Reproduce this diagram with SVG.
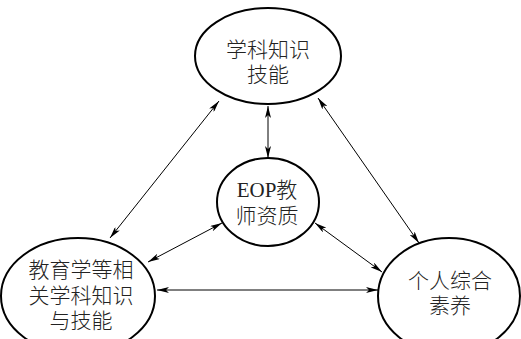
<svg xmlns="http://www.w3.org/2000/svg" width="521" height="339" viewBox="0 0 521 339">
<style>
.n{fill:#fff;stroke:#000;stroke-width:2}
.t{font-family:"Liberation Serif","Noto Sans CJK SC",serif;font-size:21px;font-weight:300;fill:#222;text-anchor:middle}
.c{stroke:#000;stroke-width:1;fill:none;marker-start:url(#ah);marker-end:url(#ah)}
</style>
<defs>
<marker id="ah" viewBox="0 0 12 6" refX="12" refY="3" markerWidth="12" markerHeight="6" markerUnits="userSpaceOnUse" orient="auto-start-reverse">
<path d="M0,0 L12,3 L0,6 L3,3 Z" fill="#000"/>
</marker>
</defs>
<rect width="521" height="339" fill="#fff"/>
<g id="connectors">
<line class="c" x1="219" y1="101" x2="110" y2="238"/>
<line class="c" x1="268" y1="106" x2="268" y2="158"/>
<line class="c" x1="318" y1="98" x2="419" y2="243"/>
<line class="c" x1="222" y1="223" x2="148" y2="262"/>
<line class="c" x1="315" y1="223" x2="382" y2="272"/>
<line class="c" x1="157" y1="290" x2="378" y2="290"/>
</g>
<g id="node-top">
<ellipse class="n" cx="268" cy="56" rx="73" ry="48"/>
<text class="t" x="268" y="57">学科知识</text>
<text class="t" x="268" y="82">技能</text>
</g>
<g id="node-center">
<ellipse class="n" cx="268" cy="202" rx="51" ry="44"/>
<text class="t" x="267" y="197">EOP教</text>
<text class="t" x="267" y="223">师资质</text>
</g>
<g id="node-left">
<ellipse class="n" cx="78" cy="296" rx="77" ry="58"/>
<text class="t" x="81" y="277">教育学等相</text>
<text class="t" x="81" y="303">关学科知识</text>
<text class="t" x="81" y="328">与技能</text>
</g>
<g id="node-right">
<ellipse class="n" cx="449" cy="296" rx="71" ry="58"/>
<text class="t" x="450" y="288">个人综合</text>
<text class="t" x="450" y="313">素养</text>
</g>
</svg>
